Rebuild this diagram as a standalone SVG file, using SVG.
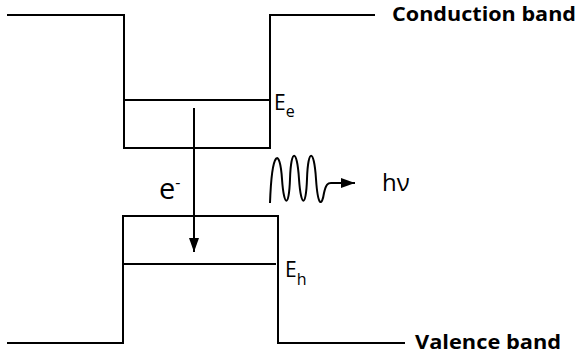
<svg xmlns="http://www.w3.org/2000/svg" width="580" height="360" viewBox="0 0 580 360">
<style>
.ln{fill:none;stroke:#000;stroke-width:2}
.lbl{font-family:"Open Sans","DejaVu Sans",sans-serif;fill:#000}
.bold{font-family:"Open Sans","DejaVu Sans",sans-serif;font-weight:bold;fill:#000}
</style>
<defs>
<marker id="ah2" viewBox="0 0 14 10" refX="14" refY="5" markerWidth="14" markerHeight="10" markerUnits="userSpaceOnUse" orient="auto">
<path d="M0,0 L14,5 L0,10 Z" fill="#000"/>
</marker>
</defs>
<g id="conduction-band">
<path class="ln" d="M7,15 H124 V148 H270 V15 H375"/>
<line class="ln" x1="124" y1="100" x2="270" y2="100"/>
<text class="bold" x="392" y="21" font-size="19" textLength="184" lengthAdjust="spacingAndGlyphs">Conduction band</text>
</g>
<g id="valence-band">
<path class="ln" d="M7,343 H123 V216 H278 V343 H405"/>
<line class="ln" x1="123" y1="264" x2="276" y2="264"/>
<text class="bold" x="415" y="349" font-size="19" textLength="146" lengthAdjust="spacingAndGlyphs">Valence band</text>
</g>
<g id="labels">
<text class="lbl" x="274" y="110" font-size="21">E<tspan font-size="16" dy="7">e</tspan></text>
<text class="lbl" x="285" y="277" font-size="21">E<tspan font-size="16" dy="8">h</tspan></text>
<text class="lbl" x="159" y="199" font-size="29">e<tspan font-size="16" dy="-11">-</tspan></text>
<text class="lbl" x="382" y="191" font-size="24">hν</text>
</g>
<g id="connectors">
<line class="ln" x1="194" y1="108" x2="194" y2="252" marker-end="url(#ah2)"/>
<path class="ln" d="M270,203 C272,148 280,148 282,179 C284,208 289,208 290,179 C291,148 297,148 299,179 C301,208 306,208 307,179 C308,148 314,148 316,179 C318,208 322,206 324,193 C326,184 328,183 331,183 L355,183" marker-end="url(#ah2)"/>
</g>
</svg>
